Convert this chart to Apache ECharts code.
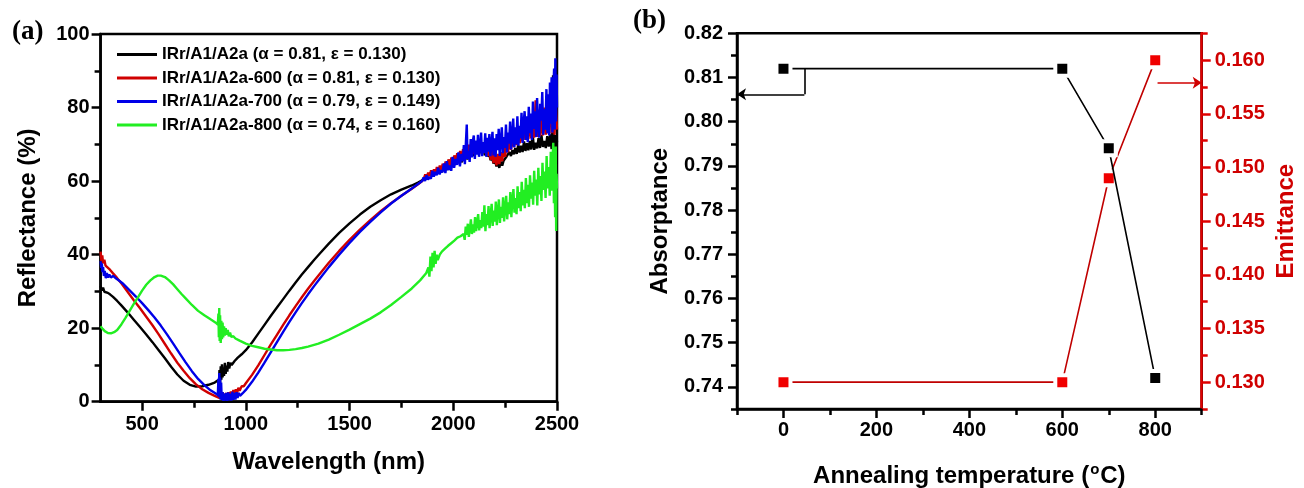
<!DOCTYPE html>
<html><head><meta charset="utf-8">
<script src="https://cdn.jsdelivr.net/npm/echarts@6/dist/echarts.min.js"></script>
<style>html,body{margin:0;padding:0;background:#fff}#c{width:1304px;height:488px}</style>
</head><body><div id="c"></div>
<script>
// ---------- Panel (a) data ----------
const seriesNames = [
  'IRr/A1/A2a (\u03b1 = 0.81, \u03b5 = 0.130)',
  'IRr/A1/A2a-600 (\u03b1 = 0.81, \u03b5 = 0.130)',
  'IRr/A1/A2a-700 (\u03b1 = 0.79, \u03b5 = 0.149)',
  'IRr/A1/A2a-800 (\u03b1 = 0.74, \u03b5 = 0.160)'
];
const wlMajorTicks = [500, 1000, 1500, 2000, 2500];
const wlMinorTicks = [750, 1250, 1750, 2250];
const reflMajorTicks = [0, 20, 40, 60, 80, 100];
const reflMinorTicks = [10, 30, 50, 70, 90];

const spectrumBlack = [
[300,31.5],[306,30.2],[312,31.0],[318,29.9],[325,30.3],[335,29.6],[345,29.2],[360,28.5],[380,27.4],[400,26.2],[430,24.3],[460,22.3],[490,20.3],[520,18.3],[550,16.2],[580,14.0],[610,11.8],[640,9.5],[670,7.4],[700,5.7],[730,4.6],[760,4.1],[790,4.2],[820,4.6],[850,5.2],[866,5.8],
[870,4.6],[873,8.6],[876,5.2],[879,9.6],[882,6.0],[885,10.2],[888,6.6],[891,9.2],[895,7.0],[899,10.6],[903,7.6],[907,9.8],[911,8.2],[915,10.8],[920,9.0],[926,10.6],[932,10.0],
[945,11.0],[960,11.9],[980,12.9],[1000,14.0],[1030,16.1],[1060,18.5],[1090,20.9],[1120,23.3],[1150,25.6],[1180,27.9],[1210,30.2],[1240,32.4],[1270,34.6],[1300,36.6],[1330,38.6],[1360,40.5],[1400,43.0],[1450,45.9],[1500,48.5],[1550,50.9],[1600,53.0],[1650,54.8],[1700,56.4],[1750,57.7],[1800,58.8],[1830,59.6],[1850,60.2],
[1858,60.4],[1865,61.2],[1872,60.7],[1879,61.6],[1886,61.1],[1893,62.3],[1900,61.2],[1907,62.4],[1914,61.9],[1921,62.8],[1928,62.2],[1935,63.6],[1942,62.3],[1949,63.7],[1956,63.1],[1963,64.0],[1970,63.0],[1977,64.9],[1984,63.7],[1991,64.8],[1998,64.3],[2005,65.9],[2012,64.5],[2019,65.8],[2026,65.2],[2033,66.9],[2040,65.1],[2047,66.6],[2054,66.0],[2061,67.7],[2068,65.9],[2075,67.4],[2082,66.8],[2089,68.6],[2096,66.8],[2103,68.2],[2110,67.5],[2117,69.2],[2124,67.3],[2131,68.6],[2138,67.9],[2145,69.0],[2152,67.0],[2159,68.2],[2166,66.7],[2173,67.3],[2180,65.7],[2187,66.4],[2194,64.8],[2201,65.7],[2208,64.0],[2215,65.0],[2222,63.6],[2229,65.3],[2236,64.2],[2243,65.6],[2250,65.1],[2257,66.7],[2264,66.2],[2271,67.9],[2278,66.8],[2285,68.4],[2292,67.3],[2299,69.0],[2306,67.4],[2313,69.8],[2320,67.8],[2327,69.6],[2334,67.9],[2341,70.8],[2348,68.2],[2355,70.3],[2362,68.4],[2369,70.9],[2376,68.6],[2383,72.4],[2390,68.5],[2397,70.4],[2404,68.9],[2411,71.7],[2418,69.0],[2425,72.5],[2432,69.3],[2439,70.9],[2446,69.0],[2453,72.2],[2460,69.4],[2467,72.7],[2474,68.7],[2478,80.5],[2481,88.8],[2484,70.2],[2488,67.8],[2492,72.5],[2496,68.5],[2500,71.0]
];

const spectrumRed = [
[300,40.8],[304,38.2],[308,39.8],[312,37.6],[318,38.6],[324,37.0],[332,37.4],[345,35.9],[360,34.9],[380,33.6],[400,32.2],[430,29.9],[460,27.6],[490,25.4],[520,23.1],[550,20.8],[580,18.3],[610,15.7],[640,13.1],[670,10.6],[700,8.4],[730,6.4],[760,4.7],[790,3.4],[820,2.4],[850,1.6],[875,1.0],
[880,2.8],[884,0.5],[888,2.6],[892,0.4],[896,2.2],[900,0.6],[905,2.4],[910,0.8],[916,2.6],[922,1.0],[928,2.8],[934,1.4],[940,3.2],[946,1.8],[952,3.4],[958,2.4],[964,3.8],[970,3.0],[980,4.2],[990,4.2],
[1000,5.0],[1030,7.3],[1060,9.9],[1090,12.7],[1120,15.5],[1150,18.2],[1180,20.9],[1210,23.5],[1240,26.0],[1270,28.4],[1300,30.7],[1330,32.9],[1360,35.0],[1400,37.8],[1450,41.0],[1500,44.0],[1550,46.8],[1600,49.4],[1650,51.8],[1700,54.0],[1750,56.0],[1800,57.9],[1830,59.1],[1850,60.0],
[1858,60.6],[1865,61.8],[1872,60.9],[1879,62.3],[1886,61.4],[1893,62.9],[1900,61.6],[1907,63.2],[1914,62.0],[1921,63.8],[1928,62.5],[1935,64.2],[1942,62.9],[1949,64.7],[1956,63.3],[1963,65.3],[1970,63.8],[1977,65.9],[1984,64.2],[1991,66.4],[1998,64.6],[2005,67.0],[2012,65.0],[2019,67.6],[2026,65.4],[2033,68.2],[2040,65.8],[2047,68.7],[2054,66.2],[2061,69.5],[2068,66.6],[2075,69.9],[2082,67.0],[2089,70.3],[2096,67.4],[2103,70.6],[2110,67.7],[2117,70.8],[2124,67.9],[2131,70.9],[2138,68.0],[2145,70.6],[2152,67.6],[2159,70.0],[2166,66.8],[2173,69.2],[2180,65.8],[2187,68.5],[2194,64.9],[2201,67.6],[2208,64.3],[2215,67.4],[2222,64.6],[2229,67.9],[2236,65.4],[2243,69.0],[2250,66.6],[2257,70.5],[2264,67.8],[2271,72.0],[2278,68.5],[2285,73.5],[2292,69.2],[2299,72.5],[2306,69.8],[2313,73.5],[2320,70.3],[2327,73.0],[2334,70.8],[2341,75.0],[2348,71.2],[2355,75.5],[2362,71.4],[2369,76.5],[2376,71.6],[2383,77.6],[2390,71.8],[2397,82.0],[2404,72.0],[2411,79.4],[2418,72.2],[2425,78.0],[2432,72.4],[2439,80.0],[2446,72.6],[2453,81.5],[2460,72.9],[2467,84.0],[2474,73.0],[2481,82.0],[2488,72.6],[2494,81.0],[2500,74.0]
];

const spectrumBlue = [
[300,38.2],[303,36.4],[306,37.6],[309,35.2],[312,36.6],[316,34.2],[320,35.6],[325,33.6],[330,35.0],[336,33.8],[342,34.6],[350,33.8],[360,34.2],[375,33.5],[390,32.9],[410,32.0],[440,30.3],[470,28.6],[500,26.8],[530,24.9],[560,22.9],[590,20.7],[620,18.3],[650,15.8],[680,13.2],[710,10.7],[740,8.3],[770,6.2],[800,4.5],[830,3.1],[855,2.2],[865,1.8],
[868,6.2],[870,1.2],[872,7.8],[874,1.6],[876,6.6],[878,0.6],[881,5.2],[884,0.4],[888,2.6],[892,0.2],[896,2.2],[900,0.3],[905,2.4],[910,0.2],[915,2.5],[920,0.4],[925,2.2],[930,0.3],[935,2.7],[940,0.5],[945,2.4],[950,0.6],[955,2.6],[960,1.0],[966,2.4],[972,1.6],
[985,2.3],[1000,3.2],[1030,5.4],[1060,7.9],[1090,10.6],[1120,13.4],[1150,16.2],[1180,19.0],[1210,21.7],[1240,24.3],[1270,26.8],[1300,29.2],[1330,31.5],[1360,33.7],[1400,36.6],[1450,40.0],[1500,43.2],[1550,46.2],[1600,48.9],[1650,51.5],[1700,53.9],[1750,56.0],[1800,58.0],[1830,59.2],[1850,60.0],
[1857,61.0],[1864,60.0],[1871,61.6],[1878,60.4],[1885,61.2],[1892,60.6],[1899,62.8],[1906,61.2],[1913,62.5],[1920,61.6],[1927,63.6],[1934,61.8],[1941,63.0],[1948,62.4],[1955,64.8],[1962,62.2],[1969,65.4],[1976,63.0],[1983,64.2],[1990,62.8],[1997,66.6],[2004,63.6],[2011,66.0],[2018,64.4],[2025,67.8],[2032,64.0],[2039,67.4],[2046,65.4],
[2051,69.8],[2056,64.6],[2061,70.6],[2065,75.4],[2069,66.0],[2074,68.2],[2079,65.2],[2084,71.4],[2089,66.4],[2094,70.8],[2099,72.4],[2104,66.0],[2109,71.0],[2114,67.2],[2119,72.6],[2124,66.6],[2129,69.4],[2134,73.2],[2139,66.8],[2144,70.6],[2149,67.6],[2154,73.0],[2159,66.6],[2164,71.8],[2169,68.0],[2174,72.8],[2179,66.8],[2184,70.2],[2189,73.4],[2194,67.0],[2199,71.6],
[2204,66.6],[2209,72.8],[2214,68.4],[2219,74.2],[2224,66.8],[2229,71.0],[2234,74.6],[2239,67.6],[2244,72.0],[2249,69.0],[2254,75.4],[2259,67.8],[2264,73.2],[2269,70.2],[2274,76.2],[2279,68.6],[2284,72.4],[2289,77.0],[2294,69.2],[2299,74.6],[2304,70.0],[2309,77.6],[2314,69.6],[2319,75.0],[2324,71.6],[2329,78.6],[2334,70.4],[2339,75.8],[2344,79.0],[2349,71.2],
[2354,77.6],[2359,70.6],[2364,80.2],[2369,73.0],[2374,78.4],[2379,71.2],[2384,81.6],[2389,74.2],[2394,79.0],[2399,72.0],[2404,82.6],[2409,75.0],[2414,71.8],[2419,81.0],[2424,76.4],[2429,84.2],[2434,72.6],[2439,79.6],[2444,74.0],[2449,85.0],
[2454,73.0],[2458,83.6],[2462,72.4],[2466,86.8],[2470,75.6],[2474,88.2],[2478,73.2],[2482,84.0],[2486,90.6],[2489,74.0],[2492,93.4],[2495,76.2],[2498,89.0],[2500,80.0]
];

const spectrumGreen = [
[300,20.5],[310,19.8],[320,19.2],[335,18.7],[350,18.6],[365,18.9],[380,19.5],[400,21.0],[420,22.8],[440,24.7],[460,26.6],[480,28.4],[500,30.2],[520,31.8],[540,33.0],[560,33.9],[575,34.3],[590,34.3],[610,33.9],[630,33.0],[650,31.9],[670,30.6],[690,29.3],[710,28.1],[740,26.3],[770,24.7],[800,23.5],[830,22.4],[855,21.5],[865,21.0],
[868,24.0],[870,17.5],[872,25.5],[874,16.5],[876,23.5],[879,16.0],[882,22.0],[885,17.0],[888,21.5],[891,17.5],[895,20.5],[899,18.0],[903,20.0],[908,18.2],[913,19.5],[918,17.8],[924,18.8],[930,17.6],[940,17.8],[950,17.2],
[970,16.6],[1000,15.8],[1030,15.2],[1060,14.8],[1090,14.4],[1120,14.2],[1150,14.0],[1180,14.0],[1210,14.1],[1240,14.3],[1270,14.6],[1300,15.0],[1350,15.8],[1400,16.9],[1450,18.2],[1500,19.6],[1550,21.1],[1600,22.6],[1650,24.3],[1700,26.3],[1750,28.5],[1800,30.8],[1840,33.0],[1870,35.0],
[1880,36.5],[1885,34.0],[1890,39.5],[1895,35.5],[1900,40.5],[1905,36.5],[1910,41.0],[1915,37.5],[1920,40.0],[1925,38.5],[1935,40.0],[1945,40.8],[1960,41.6],[1975,42.4],[1990,43.1],[2005,43.8],[2020,44.6],[2035,45.0],[2050,45.6],
[2055,44.0],[2060,47.6],[2065,45.4],[2070,48.4],[2075,44.8],[2080,47.0],[2085,49.6],[2090,45.6],[2095,48.2],[2100,46.0],[2105,50.2],[2110,46.4],[2115,48.8],[2120,51.0],[2125,46.6],[2130,49.4],[2135,47.2],[2140,51.6],[2145,47.6],[2150,53.4],
[2155,46.4],[2160,51.0],[2165,48.0],[2170,53.2],[2175,47.2],[2180,50.6],[2185,53.8],[2190,47.8],[2195,52.0],[2200,49.0],[2205,54.4],[2210,48.0],[2215,51.6],[2220,55.0],[2225,48.6],[2230,53.0],[2235,50.0],[2240,55.6],[2245,49.0],[2250,52.8],[2255,56.0],[2260,49.6],[2265,54.2],[2270,51.0],[2275,57.0],[2280,50.2],[2285,54.8],[2290,57.8],[2295,51.4],[2300,55.4],
[2305,51.0],[2310,58.6],[2315,52.6],[2320,57.0],[2325,51.8],[2330,59.8],[2335,53.4],[2340,57.6],[2345,52.6],[2350,60.8],[2355,54.0],[2360,59.0],[2365,53.0],[2370,61.6],[2375,55.2],[2380,59.6],[2385,53.6],[2390,62.8],[2395,56.0],[2400,60.4],
[2405,53.4],[2410,63.6],[2415,56.4],[2420,61.4],[2425,54.6],[2430,65.0],[2435,57.6],[2440,62.6],[2445,55.4],[2450,66.8],[2455,58.0],[2460,63.8],[2465,56.0],[2470,68.0],[2474,57.4],[2478,65.0],[2482,70.4],[2485,54.0],[2488,66.0],[2491,50.2],[2494,69.4],[2496,46.4],[2498,62.0],[2500,58.0]
];

// ---------- Panel (b) data ----------
const annealTemps = [0, 600, 700, 800];
const absorptance = [0.812, 0.812, 0.794, 0.742];
const emittance = [0.130, 0.130, 0.149, 0.160];
const tempMajorTicks = [0, 200, 400, 600, 800];
const tempMinorTicks = [-100, 100, 300, 500, 700, 900];
const absMajorTicks = [0.74, 0.75, 0.76, 0.77, 0.78, 0.79, 0.80, 0.81, 0.82];
const absMinorTicks = [0.735, 0.745, 0.755, 0.765, 0.775, 0.785, 0.795, 0.805, 0.815];
const emiMajorTicks = [0.130, 0.135, 0.140, 0.145, 0.150, 0.155, 0.160];
const emiMinorTicks = [0.1275, 0.1325, 0.1375, 0.1425, 0.1475, 0.1525, 0.1575, 0.1625];
const absArrowPath = [[45, 0.812], [45, 0.8062], [-100, 0.8062]];
const emiArrowPath = [[805, 0.1579], [900, 0.1579]];

// ---------- styling ----------
const FONT = '"Liberation Sans", Arial, Helvetica, sans-serif';
const SERIF = '"Liberation Serif", "Times New Roman", serif';
const RED_AX = '#e00000';
const lbl = (extra) => Object.assign({color:'#000', fontFamily:FONT, fontWeight:'bold', fontSize:20}, extra || {});
const nameStyle = (extra) => Object.assign({color:'#000', fontFamily:FONT, fontWeight:'bold', fontSize:24}, extra || {});
const plain = (v) => String(v);

function majorAxis(o) {
  const color = o.color || '#000';
  return Object.assign({
    type:'value', min:o.min, max:o.max,
    axisLine:{show:true, onZero:false, lineStyle:{color:color, width:2.5}},
    axisTick:{show:true, inside:false, length:9, customValues:o.ticks, lineStyle:{color:color, width:2.5}},
    axisLabel:Object.assign({show:true, customValues:o.ticks, margin:o.margin, formatter:o.fmt || plain}, lbl({color:o.labelColor || '#000'})),
    splitLine:{show:false}
  }, o.extra || {});
}
function minorAxis(o) {
  const color = o.color || '#000';
  return {
    type:'value', min:o.min, max:o.max, gridIndex:o.gridIndex, position:o.position,
    axisLine:{show:false, onZero:false},
    axisTick:{show:true, inside:false, length:6, customValues:o.ticks, lineStyle:{color:color, width:2.5}},
    axisLabel:{show:false}, splitLine:{show:false}
  };
}

const spectra = [spectrumBlack, spectrumRed, spectrumBlue, spectrumGreen];
const specColors = ['#000000', '#d00000', '#0000e8', '#22ee22'];

const series = spectra.map((d, i) => ({
  type:'line', name:seriesNames[i], xAxisIndex:0, yAxisIndex:0, data:d,
  symbol:'none', showSymbol:false, smooth:false,
  lineStyle:{color:specColors[i], width:2.4}, itemStyle:{color:specColors[i]},
  emphasis:{disabled:true}, silent:true, z:2+i
}));

const seg = (a, b, arrow) => [{coord:a, symbol:'none'}, {coord:b, symbol:arrow ? 'arrow' : 'none'}];

// axis index map: xAxis 0/1 = panel a, 2/3 = panel b ; yAxis 0/1 = panel a, 2 = absorptance, 3 = emittance
series.push({
  type:'line', name:'Absorptance', xAxisIndex:2, yAxisIndex:2,
  data:annealTemps.map((t, i) => [t, absorptance[i]]),
  symbol:'rect', symbolSize:14, showSymbol:true,
  itemStyle:{color:'#000', borderColor:'#fff', borderWidth:4}, lineStyle:{color:'#000', width:1.6},
  emphasis:{disabled:true}, silent:true, z:5,
  markLine:{
    silent:true, animation:false, symbolSize:9, label:{show:false}, emphasis:{disabled:true},
    lineStyle:{type:'solid', color:'#000', width:1.6},
    data:[seg(absArrowPath[0], absArrowPath[1], false), seg(absArrowPath[1], absArrowPath[2], true)]
  }
});
series.push({
  type:'line', name:'Emittance', xAxisIndex:2, yAxisIndex:3,
  data:annealTemps.map((t, i) => [t, emittance[i]]),
  symbol:'rect', symbolSize:14, showSymbol:true,
  itemStyle:{color:'#f00000', borderColor:'#fff', borderWidth:4}, lineStyle:{color:'#c00000', width:1.6},
  emphasis:{disabled:true}, silent:true, z:4,
  markLine:{
    silent:true, animation:false, symbolSize:9, label:{show:false}, emphasis:{disabled:true},
    lineStyle:{type:'solid', color:'#d00000', width:1.6},
    data:[seg(emiArrowPath[0], emiArrowPath[1], true)]
  }
});

const LINE_ICON = 'path://M0,0 L40,0 L40,3 L0,3 Z';

const option = {
  animation:false,
  backgroundColor:'#fff',
  title:[
    {text:'(a)', left:12, top:19, padding:0, textStyle:{fontFamily:SERIF, fontWeight:'bold', fontSize:27, color:'#000'}},
    {text:'(b)', left:633, top:8, padding:0, textStyle:{fontFamily:SERIF, fontWeight:'bold', fontSize:27, color:'#000'}}
  ],
  legend:{
    show:true, orient:'vertical', left:117, top:44.5, padding:0,
    data:seriesNames.map((n) => ({name:n, icon:LINE_ICON})),
    itemWidth:40, itemHeight:3, itemGap:3.5, selectedMode:false,
    textStyle:{fontFamily:FONT, fontWeight:'bold', fontSize:17, color:'#000', lineHeight:20}
  },
  grid:[
    {left:100.6, top:34, width:456.4, height:367.7, show:true, borderColor:'#000', borderWidth:2.5, backgroundColor:'transparent', outerBoundsMode:'none', containLabel:false},
    {left:737, top:33.3, width:464.7, height:375.7, show:true, borderColor:'#000', borderWidth:2.5, backgroundColor:'transparent', outerBoundsMode:'none', containLabel:false}
  ],
  xAxis:[
    majorAxis({min:300, max:2500, ticks:wlMajorTicks, margin:13, extra:{gridIndex:0, position:'bottom',
      name:'Wavelength (nm)', nameLocation:'middle', nameGap:49, nameTextStyle:nameStyle()}}),
    minorAxis({min:300, max:2500, ticks:wlMinorTicks, gridIndex:0, position:'bottom'}),
    majorAxis({min:-100, max:900, ticks:tempMajorTicks, margin:11, extra:{gridIndex:1, position:'bottom',
      name:'{n|Annealing temperature (}{s|o}{n|C)}', nameLocation:'middle', nameGap:53,
      nameTextStyle:nameStyle({rich:{
        n:{fontFamily:FONT, fontWeight:'bold', fontSize:24, color:'#000'},
        s:{fontFamily:FONT, fontWeight:'bold', fontSize:15, color:'#000', padding:[0,1,13,1]}
      }})}}),
    minorAxis({min:-100, max:900, ticks:tempMinorTicks, gridIndex:1, position:'bottom'})
  ],
  yAxis:[
    majorAxis({min:0, max:100, ticks:reflMajorTicks, margin:11, extra:{gridIndex:0, position:'left',
      name:'Reflectance (%)', nameLocation:'middle', nameGap:60, nameTextStyle:nameStyle()}}),
    minorAxis({min:0, max:100, ticks:reflMinorTicks, gridIndex:0, position:'left'}),
    majorAxis({min:0.735, max:0.82, ticks:absMajorTicks, margin:14, fmt:(v)=>Number(v).toFixed(2), extra:{gridIndex:1, position:'left',
      name:'Absorptance', nameLocation:'middle', nameGap:65, nameTextStyle:nameStyle()}}),
    majorAxis({min:0.1275, max:0.1625, ticks:emiMajorTicks, margin:13, color:RED_AX, labelColor:'#d00000', fmt:(v)=>Number(v).toFixed(3), extra:{gridIndex:1, position:'right',
      name:'Emittance', nameLocation:'middle', nameGap:73, nameTextStyle:nameStyle({color:'#d00000'})}}),
    minorAxis({min:0.735, max:0.82, ticks:absMinorTicks, gridIndex:1, position:'left'}),
    minorAxis({min:0.1275, max:0.1625, ticks:emiMinorTicks, gridIndex:1, position:'right', color:RED_AX})
  ],
  series:series
};

const chart = echarts.init(document.getElementById('c'), null, {renderer:'canvas', width:1304, height:488});
chart.setOption(option);
</script>
</body></html>
